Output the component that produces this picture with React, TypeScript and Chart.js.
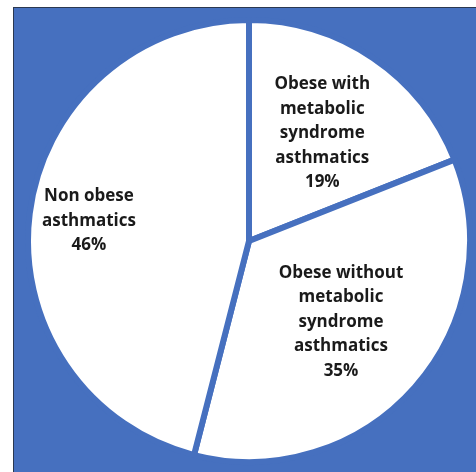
import React, { useEffect, useRef } from "react";
import { Chart, registerables } from "chart.js";

Chart.register(...registerables);

// Slice names, split into the lines they are printed on
const groupLines: string[][] = [
  ["Obese with", "metabolic", "syndrome", "asthmatics"],
  ["Obese without", "metabolic", "syndrome", "asthmatics"],
  ["Non obese", "asthmatics"],
];
const groupNames = groupLines.map((l) => l.join(" "));
// Share of asthmatics in each group (%)
const shares = [19, 35, 46];

const BLUE = "#4670BF";
const INK = "#1a1a1a";

// How far out along each slice's bisector its label sits (fraction of radius)
const labelReach = [0.59, 0.555, 0.73];

const sliceLabels = {
  id: "sliceLabels",
  afterDatasetsDraw(chart: any) {
    const { ctx } = chart;
    const meta = chart.getDatasetMeta(0);
    ctx.save();
    ctx.fillStyle = INK;
    ctx.font = "bold 17px 'Open Sans'";
    ctx.textAlign = "center";
    ctx.textBaseline = "middle";
    const lineH = 24.5;
    meta.data.forEach((arc: any, i: number) => {
      const { x, y, startAngle, endAngle, outerRadius } = arc.getProps(
        ["x", "y", "startAngle", "endAngle", "outerRadius"],
        true
      );
      const mid = (startAngle + endAngle) / 2;
      const r = outerRadius * labelReach[i];
      const cx = x + Math.cos(mid) * r;
      const cy = y + Math.sin(mid) * r;
      const lines = [...groupLines[i], `${shares[i]}%`];
      const top = cy - ((lines.length - 1) / 2) * lineH;
      lines.forEach((t, k) => ctx.fillText(t, cx, top + k * lineH));
    });
    ctx.restore();
  },
};

export default function App() {
  const ref = useRef<HTMLCanvasElement>(null);

  useEffect(() => {
    if (!ref.current) return;
    const chart = new Chart(ref.current, {
      type: "pie",
      data: {
        labels: groupNames,
        datasets: [
          {
            data: shares,
            backgroundColor: "#ffffff",
            borderColor: BLUE,
            borderWidth: 6,
          },
        ],
      },
      options: {
        responsive: false,
        animation: false,
        radius: 221,
        layout: { padding: 0 },
        plugins: {
          legend: { display: false },
          tooltip: { enabled: false },
        },
      },
      plugins: [sliceLabels],
    });
    return () => chart.destroy();
  }, []);

  return (
    <div
      style={{
        position: "fixed",
        left: 13,
        top: 7,
        width: 463,
        height: 465,
        boxSizing: "border-box",
        borderLeft: "1px solid #2b3850",
        borderTop: "1px solid #2b3850",
        background: BLUE,
      }}
    >
      <canvas
        ref={ref}
        width={450}
        height={450}
        style={{ position: "absolute", left: 10, top: 8, width: 450, height: 450 }}
      />
    </div>
  );
}
